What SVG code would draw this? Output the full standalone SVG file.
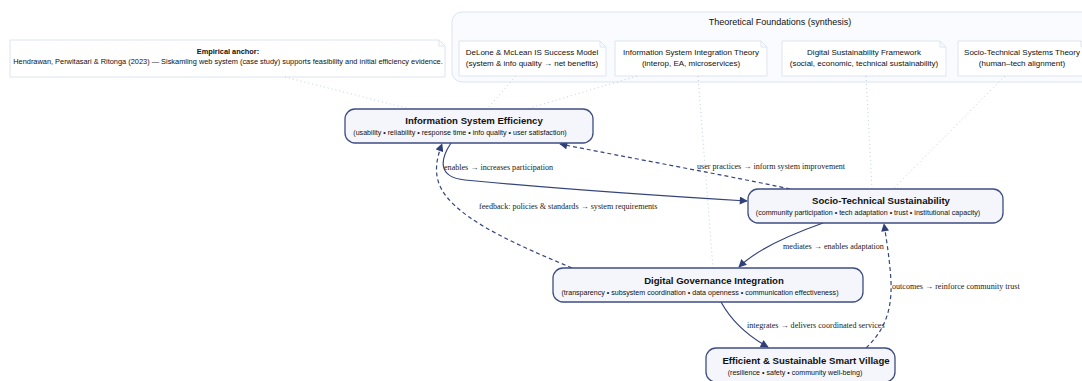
<svg xmlns="http://www.w3.org/2000/svg" width="1082" height="381" viewBox="0 0 1082 381">
<defs>
<style>
.bg{fill:#ffffff}
.grp{fill:#fafbfe;stroke:#dbe4f2;stroke-width:1}
.note{fill:#ffffff;stroke:#dde5f1;stroke-width:1}
.node{fill:#f4f6fb;stroke:#3e4d82;stroke-width:1.3}
.t{font-family:"Liberation Sans",Arial,sans-serif;fill:#111;text-anchor:middle}
.title{font-size:9.6px;font-weight:bold}
.sub{font-size:7.1px}
.nt{font-size:8px}
.emp{font-size:7.4px}
.el{font-family:"Liberation Serif","Times New Roman",serif;font-size:8.1px;fill:#222}
.e{fill:none;stroke:#34447c;stroke-width:1.2}
.d{stroke-dasharray:4 3}
.dot{fill:none;stroke:#c3cee4;stroke-width:1;stroke-dasharray:1 3}
</style>
<marker id="ah" viewBox="0 0 10 10" refX="9" refY="5" markerWidth="9" markerHeight="8" markerUnits="userSpaceOnUse" orient="auto">
<path d="M0,0 L10,5 L0,10 Z" fill="#2f3f78"/>
</marker>
</defs>
<rect class="bg" x="0" y="0" width="1082" height="381"/>

<g id="theory-group">
<rect class="grp" x="452" y="12" width="650" height="70" rx="10"/>
<text class="t" x="780" y="25" style="font-size:9px">Theoretical Foundations (synthesis)</text>
</g>

<g id="empirical">
<path class="note" d="M10,40 L439,40 L445,46 L445,77 L10,77 Z M439,40 L439,46 L445,46"/>
<text class="t emp" x="228" y="54" style="font-weight:bold">Empirical anchor:</text>
<text class="t emp" x="228" y="64">Hendrawan, Perwitasari &amp; Ritonga (2023) — Siskamling web system (case study) supports feasibility and initial efficiency evidence.</text>
</g>

<g id="delone">
<path class="note" d="M459,41 L600,41 L606,47 L606,76 L459,76 Z M600,41 L600,47 L606,47"/>
<text class="t nt" x="532" y="55">DeLone &amp; McLean IS Success Model</text>
<text class="t nt" x="532" y="66">(system &amp; info quality → net benefits)</text>
</g>

<g id="integration-theory">
<path class="note" d="M615,41 L761,41 L767,47 L767,76 L615,76 Z M761,41 L761,47 L767,47"/>
<text class="t nt" x="691" y="55">Information System Integration Theory</text>
<text class="t nt" x="691" y="66">(interop, EA, microservices)</text>
</g>

<g id="digital-sustainability">
<path class="note" d="M782,41 L940,41 L946,47 L946,76 L782,76 Z M940,41 L940,47 L946,47"/>
<text class="t nt" x="864" y="55">Digital Sustainability Framework</text>
<text class="t nt" x="864" y="66">(social, economic, technical sustainability)</text>
</g>

<g id="sociotech-theory">
<path class="note" d="M958,41 L1081,41 L1087,47 L1087,76 L958,76 Z M1081,41 L1081,47 L1087,47"/>
<text class="t nt" x="1022" y="55">Socio-Technical Systems Theory</text>
<text class="t nt" x="1022" y="66">(human–tech alignment)</text>
</g>

<g id="connectors">
<path class="dot" d="M285,77 L410,109"/>
<path class="dot" d="M516,76 L487,109"/>
<path class="dot" d="M637,76 L527,109"/>
<path class="dot" d="M698,76 L713,268"/>
<path class="dot" d="M866,76 L872,189"/>
<path class="dot" d="M1005,76 L893,189"/>

<path class="e" d="M451,143 C441,158 436,177 465,180 C560,189 680,197 747,201" marker-end="url(#ah)"/>
<path class="e d" d="M790,189 C740,178 620,156 560,144" marker-end="url(#ah)"/>
<path class="e d" d="M572,268 C520,246 468,224 446,196 C432,178 436,160 442,144" marker-end="url(#ah)"/>
<path class="e" d="M823,223 C792,234 757,249 739,267" marker-end="url(#ah)"/>
<path class="e" d="M721,302 C731,320 746,335 768,347" marker-end="url(#ah)"/>
<path class="e d" d="M866,348 C885,330 892,310 891,282 C890,262 887,243 884,224" marker-end="url(#ah)"/>

<text class="el" x="444" y="170">enables → increases participation</text>
<text class="el" x="697" y="169">user practices → inform system improvement</text>
<text class="el" x="479" y="209">feedback: policies &amp; standards → system requirements</text>
<text class="el" x="783" y="249">mediates → enables adaptation</text>
<text class="el" x="892" y="289">outcomes → reinforce community trust</text>
<text class="el" x="747" y="328">integrates → delivers coordinated services</text>
</g>

<g id="ise">
<rect class="node" x="345" y="109" width="248" height="34" rx="10"/>
<text class="t title" x="474" y="123.5">Information System Efficiency</text>
<text class="t sub" x="460" y="134.5">(usability • reliability • response time • info quality • user satisfaction)</text>
</g>

<g id="sts">
<rect class="node" x="748" y="189" width="255" height="34" rx="10"/>
<text class="t title" x="881" y="203.5">Socio-Technical Sustainability</text>
<text class="t sub" x="868" y="214.5">(community participation • tech adaptation • trust • institutional capacity)</text>
</g>

<g id="dgi">
<rect class="node" x="553" y="268" width="310" height="34" rx="10"/>
<text class="t title" x="714" y="283.5">Digital Governance Integration</text>
<text class="t sub" x="700" y="294.5">(transparency • subsystem coordination • data openness • communication effectiveness)</text>
</g>

<g id="village">
<rect class="node" x="706" y="348" width="189" height="34" rx="10"/>
<text class="t title" x="806" y="363.5">Efficient &amp; Sustainable Smart Village</text>
<text class="t sub" x="795" y="374.5">(resilience • safety • community well-being)</text>
</g>
</svg>
